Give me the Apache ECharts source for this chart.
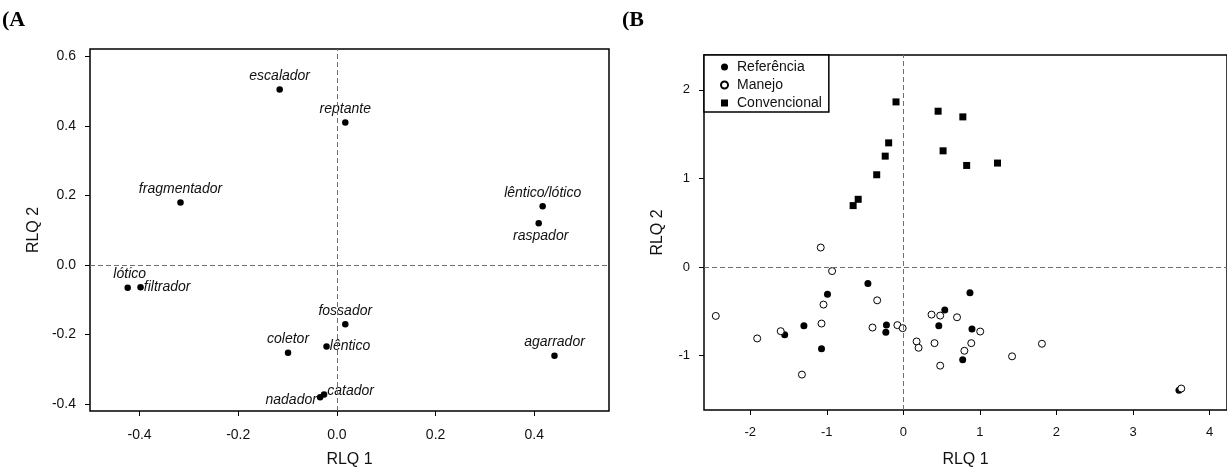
<!DOCTYPE html>
<html>
<head>
<meta charset="utf-8">
<script src="https://cdn.jsdelivr.net/npm/echarts@6/dist/echarts.min.js"></script>
<style>
html,body{margin:0;padding:0;background:#fff;}
#c{width:1227px;height:473px;}
</style>
</head>
<body>
<div id="c"></div>
<script>
// ---------- Panel A data ----------
var traitNames = ['escalador','reptante','fragmentador','lêntico/lótico','raspador','lótico','filtrador','fossador','lêntico','coletor','agarrador','catador','nadador'];
var traitX = [-0.116, 0.017, -0.317, 0.417, 0.409, -0.424, -0.398, 0.017, -0.021, -0.099, 0.441, -0.026, -0.034];
var traitY = [0.505, 0.410, 0.180, 0.169, 0.120, -0.066, -0.064, -0.171, -0.235, -0.253, -0.262, -0.373, -0.381];
var ticksAX = [-0.4, -0.2, 0.0, 0.2, 0.4];
var ticksAY = [-0.4, -0.2, 0.0, 0.2, 0.4, 0.6];

// ---------- Panel B data ----------
var refX = [-0.463, -0.991, 0.870, 0.541, -1.299, -0.221, -0.229, 0.463, 0.896, -1.550, -1.069, 0.775, 3.600];
var refY = [-0.184, -0.307, -0.288, -0.483, -0.663, -0.652, -0.734, -0.663, -0.697, -0.764, -0.921, -1.045, -1.390];
var manX = [-1.079, -0.931, -2.450, -0.342, -1.043, -1.909, -1.602, -1.069, -1.325, -0.403, -0.078, -0.009, 0.368, 0.481, 0.701, 1.004, 0.173, 0.199, 0.407, 0.887, 0.797, 0.481, 1.420, 1.810, 3.630];
var manY = [0.221, -0.045, -0.551, -0.375, -0.423, -0.805, -0.723, -0.637, -1.213, -0.682, -0.655, -0.689, -0.536, -0.547, -0.566, -0.727, -0.839, -0.910, -0.858, -0.858, -0.944, -1.112, -1.007, -0.865, -1.370];
var convX = [-0.096, 0.454, 0.777, -0.192, 0.519, -0.237, 1.230, 0.827, -0.348, -0.590, -0.656];
var convY = [1.864, 1.759, 1.695, 1.402, 1.312, 1.252, 1.174, 1.147, 1.042, 0.765, 0.694];
var ticksBX = [-2, -1, 0, 1, 2, 3, 4];
var ticksBY = [-1, 0, 1, 2];
var legendNames = ['Referência', 'Manejo', 'Convencional'];

// ---------- layout / style (kept separate from data) ----------
var labelPlacement = {
  'escalador': ['top', [0, 0]],
  'reptante': ['top', [0, 0]],
  'fragmentador': ['top', [0, 0]],
  'lêntico/lótico': ['top', [0, 0]],
  'raspador': ['bottom', [2, 0]],
  'lótico': ['top', [2, 0]],
  'filtrador': ['right', [-3, 0]],
  'fossador': ['top', [0, 0]],
  'lêntico': ['right', [-3, 0]],
  'coletor': ['top', [0, 0]],
  'agarrador': ['top', [0, 0]],
  'catador': ['right', [-3, -3]],
  'nadador': ['left', [3, 3]]
};

function zip(xs, ys) { return xs.map(function (x, i) { return [x, ys[i]]; }); }

var font = 'Liberation Sans, Arial, sans-serif';
var dash = { color: '#6e6e6e', width: 1, type: [5, 3] };

function zeroLines() {
  return {
    silent: true, symbol: 'none', animation: false,
    label: { show: false },
    lineStyle: dash,
    emphasis: { disabled: true },
    data: [{ xAxis: 0 }, { yAxis: 0 }]
  };
}

function valAxis(gi, min, max, ticks, fmt, name, isY, o) {
  return {
    type: 'value', gridIndex: gi, min: min, max: max,
    name: name, nameLocation: 'middle', nameGap: o.nameGap,
    nameTextStyle: { fontFamily: font, fontSize: 16, color: '#111' },
    axisLine: { show: false, onZero: false },
    axisTick: { show: true, inside: false, length: 5, lineStyle: { color: '#000', width: 1 }, customValues: ticks },
    axisLabel: { show: true, margin: o.margin, fontFamily: font, fontSize: o.fs, color: '#111',
      customValues: ticks, formatter: fmt },
    splitLine: { show: false }
  };
}

var traitData = traitNames.map(function (n, i) {
  var p = labelPlacement[n];
  return { value: [traitX[i], traitY[i]], name: n,
    label: { position: p[0], offset: p[1] } };
});

var option = {
  animation: false,
  backgroundColor: '#fff',
  graphic: [
    { type: 'text', left: 2, top: 9, style: { text: '(A', font: 'bold 22px "Liberation Serif", "Times New Roman", serif', fill: '#000' } },
    { type: 'text', left: 622, top: 9, style: { text: '(B', font: 'bold 22px "Liberation Serif", "Times New Roman", serif', fill: '#000' } }
  ],
  grid: [
    { left: 90, top: 49, width: 519, height: 365, show: true, borderColor: '#000', borderWidth: 1.5, backgroundColor: 'transparent' },
    { left: 704, top: 55, width: 526, height: 356.5, show: true, borderColor: '#000', borderWidth: 1.5, backgroundColor: 'transparent' }
  ],
  xAxis: [
    valAxis(0, (90 - 336.9) / 493.4, (609 - 336.9) / 493.4, ticksAX, function (v) { return v.toFixed(1); }, 'RLQ 1', false, { nameGap: 41, margin: 17, fs: 14 }),
    valAxis(1, (704 - 904.5) / 77, (1230 - 904.5) / 77, ticksBX, function (v) { return String(Math.round(v)); }, 'RLQ 1', false, { nameGap: 42, margin: 16, fs: 13 })
  ],
  yAxis: [
    valAxis(0, -(414 - 266.7) / 350, (266.7 - 49) / 350, ticksAY, function (v) { return v.toFixed(1); }, 'RLQ 2', true, { nameGap: 48, margin: 14, fs: 14 }),
    valAxis(1, -(411.5 - 268) / 89, (268 - 55) / 89, ticksBY, function (v) { return String(Math.round(v)); }, 'RLQ 2', true, { nameGap: 38, margin: 14, fs: 13 })
  ],
  legend: {
    data: legendNames,
    left: 704, top: 55,
    orient: 'vertical',
    backgroundColor: '#fff',
    borderColor: '#000', borderWidth: 1.5, borderRadius: 0,
    padding: [5, 7, 2, 16],
    itemWidth: 7, itemHeight: 7, itemGap: 4,
    textStyle: { fontFamily: font, fontSize: 14, color: '#111', lineHeight: 14, padding: [0, 0, 0, 4] },
    selectedMode: false
  },
  series: [
    {
      type: 'scatter', xAxisIndex: 0, yAxisIndex: 0, symbol: 'circle', symbolSize: 6.5,
      itemStyle: { color: '#000', opacity: 1 },
      label: { show: true, formatter: '{b}', fontFamily: font, fontStyle: 'italic', fontSize: 14, color: '#111', distance: 3 },
      data: traitData,
      markLine: zeroLines()
    },
    {
      name: 'Referência', type: 'scatter', xAxisIndex: 1, yAxisIndex: 1, symbol: 'circle', symbolSize: 7,
      itemStyle: { color: '#000', opacity: 1 },
      data: zip(refX, refY),
      markLine: zeroLines()
    },
    {
      name: 'Manejo', type: 'scatter', xAxisIndex: 1, yAxisIndex: 1, symbol: 'circle', symbolSize: 7,
      itemStyle: { color: '#fff', borderColor: '#000', borderWidth: 1, opacity: 1 },
      data: zip(manX, manY)
    },
    {
      name: 'Convencional', type: 'scatter', xAxisIndex: 1, yAxisIndex: 1, symbol: 'rect', symbolSize: 7,
      itemStyle: { color: '#000', opacity: 1 },
      data: zip(convX, convY)
    }
  ]
};

var chart = echarts.init(document.getElementById('c'), null, { renderer: 'canvas' });
chart.setOption(option);
</script>
</body>
</html>
